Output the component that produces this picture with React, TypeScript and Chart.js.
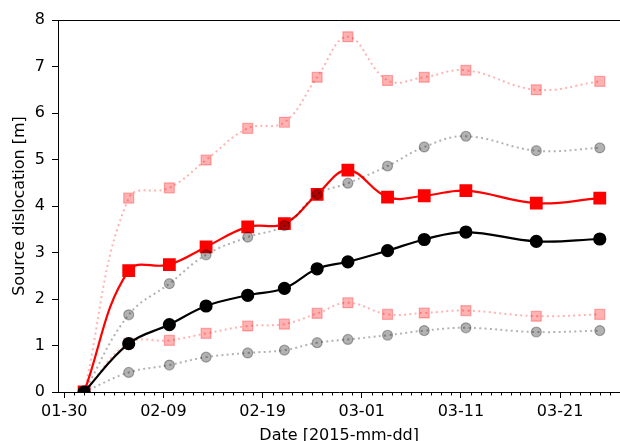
import React, { useEffect, useRef } from "react";
import { Chart, registerables } from "chart.js";

Chart.register(...registerables);

// Days since 2015-01-30 for each observation
const dayOffsets = [2.0, 6.5, 10.6, 14.3, 18.5, 22.2, 25.5, 28.6, 32.6, 36.3, 40.5, 47.6, 54.0];
// Black solid (circles)
const blackSeries = [0, 1.04, 1.45, 1.85, 2.08, 2.23, 2.65, 2.8, 3.04, 3.28, 3.44, 3.24, 3.29];
// Red solid (squares)
const redSeries = [0, 2.61, 2.74, 3.12, 3.55, 3.62, 4.25, 4.77, 4.19, 4.22, 4.33, 4.06, 4.17];
// Grey dotted bounds (circles)
const greyUpper = [0, 1.66, 2.33, 2.95, 3.33, 3.58, 4.25, 4.49, 4.86, 5.27, 5.5, 5.19, 5.25];
const greyLower = [0, 0.42, 0.58, 0.75, 0.84, 0.9, 1.06, 1.13, 1.22, 1.32, 1.38, 1.29, 1.32];
// Pink dotted bounds (squares)
const pinkUpper = [0, 4.17, 4.39, 4.99, 5.67, 5.8, 6.77, 7.64, 6.7, 6.77, 6.92, 6.5, 6.68];
const pinkLower = [0, 1.05, 1.11, 1.26, 1.42, 1.46, 1.69, 1.92, 1.67, 1.7, 1.75, 1.63, 1.67];

const xTickValues = [0, 10, 20, 30, 40, 50];
const xTickLabels = ["01-30", "02-09", "02-19", "03-01", "03-11", "03-21"];
const yTickValues = [0, 1, 2, 3, 4, 5, 6, 7, 8];

const FONT = { family: "'DejaVu Sans', sans-serif", size: 16 };

const toPoints = (ys: number[]) => dayOffsets.map((x, i) => ({ x, y: ys[i] }));

const framePlugin = {
  id: "frame",
  afterDraw(chart: any) {
    const { ctx, chartArea } = chart;
    const xs = chart.scales.x;
    ctx.save();
    ctx.strokeStyle = "#000";
    ctx.lineWidth = 1;
    // top spine
    ctx.beginPath();
    ctx.moveTo(chartArea.left, chartArea.top + 0.5);
    ctx.lineTo(chartArea.right, chartArea.top + 0.5);
    ctx.stroke();
    // minor daily ticks
    ctx.beginPath();
    for (let d = Math.ceil(xs.min); d <= Math.floor(xs.max); d++) {
      if (xTickValues.includes(d)) continue;
      const px = Math.round(xs.getPixelForValue(d)) + 0.5;
      ctx.moveTo(px, chartArea.bottom);
      ctx.lineTo(px, chartArea.bottom + 3.5);
    }
    ctx.stroke();
    ctx.restore();
  },
};

export default function App() {
  const ref = useRef<HTMLCanvasElement | null>(null);

  useEffect(() => {
    if (!ref.current) return;
    const dotted = {
      borderWidth: 2,
      borderDash: [2, 3.3],
      borderCapStyle: "butt" as const,
      tension: 0.4,
      clip: 0,
      pointBorderWidth: 1.2,
    };
    const chart = new Chart(ref.current, {
      type: "line",
      data: {
        datasets: [
          {
            label: "Black",
            data: toPoints(blackSeries),
            borderColor: "#000",
            backgroundColor: "#000",
            pointBackgroundColor: "#000",
            pointBorderColor: "#000",
            pointStyle: "circle",
            pointRadius: 5.5,
            pointHoverRadius: 5.5,
            borderWidth: 2.2,
            tension: 0.4,
            clip: 0,
          },
          {
            label: "Upper bound (grey)",
            data: toPoints(greyUpper),
            borderColor: "rgba(0,0,0,0.3)",
            pointBackgroundColor: "rgba(0,0,0,0.3)",
            pointBorderColor: "rgba(0,0,0,0.3)",
            pointStyle: "circle",
            pointRadius: 5,
            pointHoverRadius: 5,
            ...dotted,
          },
          {
            label: "Lower bound (grey)",
            data: toPoints(greyLower),
            borderColor: "rgba(0,0,0,0.3)",
            pointBackgroundColor: "rgba(0,0,0,0.3)",
            pointBorderColor: "rgba(0,0,0,0.3)",
            pointStyle: "circle",
            pointRadius: 5,
            pointHoverRadius: 5,
            ...dotted,
          },
          {
            label: "Upper bound (red)",
            data: toPoints(pinkUpper),
            borderColor: "rgba(255,0,0,0.3)",
            pointBackgroundColor: "rgba(255,0,0,0.3)",
            pointBorderColor: "rgba(255,0,0,0.3)",
            pointStyle: "rect",
            pointRadius: 7,
            pointHoverRadius: 7,
            ...dotted,
          },
          {
            label: "Lower bound (red)",
            data: toPoints(pinkLower),
            borderColor: "rgba(255,0,0,0.3)",
            pointBackgroundColor: "rgba(255,0,0,0.3)",
            pointBorderColor: "rgba(255,0,0,0.3)",
            pointStyle: "rect",
            pointRadius: 7,
            pointHoverRadius: 7,
            ...dotted,
          },
          {
            label: "Red",
            data: toPoints(redSeries),
            borderColor: "#ff0000",
            backgroundColor: "#ff0000",
            pointBackgroundColor: "#ff0000",
            pointBorderColor: "#ff0000",
            pointStyle: "rect",
            pointRadius: 7.5,
            pointHoverRadius: 7.5,
            borderWidth: 2.2,
            tension: 0.4,
            clip: 0,
          },
        ],
      },
      options: {
        animation: false,
        responsive: false,
        devicePixelRatio: 1,
        layout: { padding: { top: 20, right: 5, left: 0, bottom: 0 } },
        plugins: { legend: { display: false }, tooltip: { enabled: false } },
        scales: {
          x: {
            type: "linear",
            min: -0.63,
            max: 56.07,
            afterFit: (s: any) => {
              s.height = 68;
            },
            afterBuildTicks: (s: any) => {
              s.ticks = xTickValues.map((v) => ({ value: v }));
            },
            ticks: {
              autoSkip: false,
              maxRotation: 0,
              color: "#000",
              font: FONT,
              padding: 4,
              callback: (v: any) => {
                const i = xTickValues.indexOf(Number(v));
                return i >= 0 ? xTickLabels[i] : "";
              },
            },
            grid: { drawOnChartArea: false, drawTicks: true, tickLength: 6, color: "#000" },
            border: { color: "#000", width: 1 },
            title: {
              display: true,
              text: "Date [2015-mm-dd]",
              color: "#000",
              font: FONT,
              padding: { top: 0, bottom: 15 },
            },
          },
          y: {
            type: "linear",
            min: 0,
            max: 8,
            afterFit: (s: any) => {
              s.width = 58;
            },
            afterBuildTicks: (s: any) => {
              s.ticks = yTickValues.map((v) => ({ value: v }));
            },
            ticks: {
              color: "#000",
              font: FONT,
              padding: 7,
              callback: (v: any) => String(v),
            },
            grid: { drawOnChartArea: false, drawTicks: true, tickLength: 6, color: "#000" },
            border: { color: "#000", width: 1 },
            title: {
              display: true,
              text: "Source dislocation [m]",
              color: "#000",
              font: FONT,
              padding: { top: 10, bottom: 0 },
            },
          },
        },
      },
      plugins: [framePlugin],
    });
    return () => chart.destroy();
  }, []);

  return (
    <div style={{ position: "fixed", left: 0, top: 0, width: 630, height: 460, background: "#fff" }}>
      <canvas ref={ref} width={630} height={460} style={{ display: "block", width: 630, height: 460 }} />
    </div>
  );
}
